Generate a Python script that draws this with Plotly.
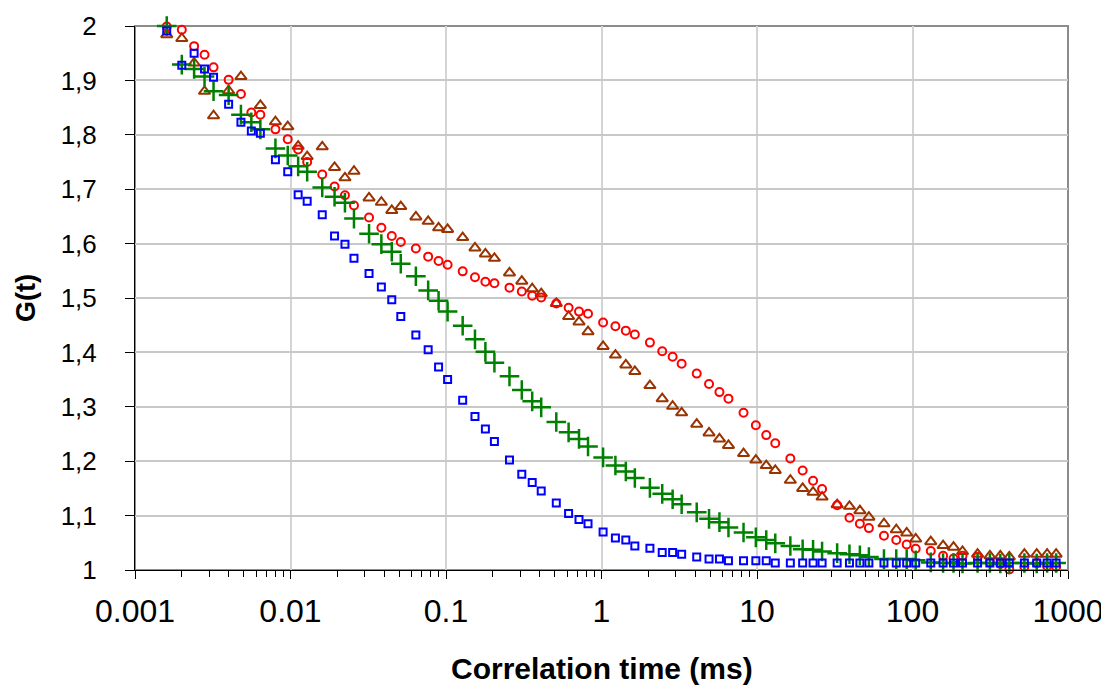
import plotly.graph_objects as go

# Correlation times (ms)
tau_ms = [
    0.0016,
    0.002, 0.0024, 0.0028, 0.0032,
    0.004, 0.0048, 0.0056, 0.0064,
    0.008, 0.0096, 0.0112, 0.0128,
    0.016, 0.0192, 0.0224, 0.0256,
    0.032, 0.0384, 0.0448, 0.0512,
    0.064, 0.0768, 0.0896, 0.1024,
    0.128, 0.1536, 0.1792, 0.2048,
    0.256, 0.3072, 0.3584, 0.4096,
    0.512, 0.6144, 0.7168, 0.8192,
    1.024, 1.2288, 1.4336, 1.6384,
    2.048, 2.4576, 2.8672, 3.2768,
    4.096, 4.9152, 5.7344, 6.5536,
    8.192, 9.8304, 11.4688, 13.1072,
    16.384, 19.6608, 22.9376, 26.2144,
    32.768, 39.3216, 45.8752, 52.4288,
    65.536, 78.6432, 91.7504, 104.8576,
    131.072, 157.2864, 183.5008, 209.7152,
    262.144, 314.5728, 367.0016, 419.4304,
    524.288, 629.1456, 734.0032, 838.8608,
]

g_red = [
    1.999, 1.993, 1.963, 1.947, 1.924, 1.901, 1.875, 1.841, 1.837, 1.810,
    1.792, 1.773, 1.750, 1.727, 1.705, 1.689, 1.670, 1.648, 1.629, 1.614,
    1.603, 1.591, 1.576, 1.568, 1.561, 1.549, 1.538, 1.530, 1.527, 1.519,
    1.512, 1.504, 1.501, 1.490, 1.482, 1.475, 1.471, 1.455, 1.448, 1.440,
    1.433, 1.418, 1.402, 1.392, 1.379, 1.361, 1.342, 1.327, 1.315, 1.289,
    1.266, 1.248, 1.233, 1.205, 1.183, 1.164, 1.149, 1.119, 1.096, 1.085,
    1.077, 1.063, 1.055, 1.047, 1.039, 1.035, 1.026, 1.021, 1.026, 1.024,
    1.014, 1.011, 1.001, 1.006, 1.013, 1.007, 1.006,
]

g_brown = [
    1.984, 1.977, 1.932, 1.880, 1.835, 1.881, 1.907, None, 1.854, 1.824,
    1.815, 1.779, 1.760, 1.778, 1.740, 1.721, 1.733, 1.684, 1.676, 1.661,
    1.668, 1.649, 1.641, 1.629, 1.626, 1.611, 1.592, 1.581, 1.573, 1.546,
    1.531, 1.517, 1.508, 1.490, 1.466, 1.456, 1.438, 1.411, 1.395, 1.377,
    1.365, 1.339, 1.315, 1.301, 1.289, 1.268, 1.252, 1.241, 1.229, 1.214,
    1.202, 1.192, 1.183, 1.165, 1.150, 1.143, 1.134, 1.120, 1.117, 1.109,
    1.097, 1.085, 1.074, 1.068, 1.057, 1.052, 1.045, 1.042, 1.034, 1.029,
    1.026, 1.026, 1.024, 1.029, 1.029, 1.029, 1.029,
]

g_green = [
    2.000, 1.929, 1.921, 1.907, 1.880, 1.873, 1.837, 1.823, 1.810, 1.775,
    1.762, 1.742, 1.732, 1.703, 1.686, 1.675, 1.646, 1.618, 1.599, 1.585,
    1.563, 1.540, 1.514, 1.495, 1.475, 1.449, 1.424, 1.401, 1.381, 1.356,
    1.331, 1.310, 1.299, 1.272, 1.253, 1.241, 1.227, 1.207, 1.192, 1.181,
    1.169, 1.151, 1.140, 1.130, 1.121, 1.106, 1.094, 1.088, 1.078, 1.069,
    1.060, 1.055, 1.049, 1.044, 1.038, 1.037, 1.034, 1.031, 1.029, 1.027,
    1.024, 1.020, 1.020, 1.020, 1.018, 1.014, 1.013, 1.013, 1.012, 1.013,
    1.013, 1.012, 1.013, 1.013, 1.012, 1.013, 1.013,
]

g_blue = [
    1.991, 1.928, 1.950, 1.921, 1.906, 1.856, 1.823, 1.807, 1.803, 1.754,
    1.732, 1.690, 1.678, 1.653, 1.614, 1.599, 1.573, 1.545, 1.520, 1.497,
    1.466, 1.432, 1.405, 1.373, 1.350, 1.312, 1.282, 1.259, 1.236, 1.202,
    1.176, 1.161, 1.145, 1.123, 1.104, 1.093, 1.085, 1.070, 1.059, 1.055,
    1.044, 1.040, 1.032, 1.032, 1.029, 1.024, 1.020, 1.020, 1.017, 1.017,
    1.017, 1.017, 1.013, 1.013, 1.013, 1.013, 1.013, 1.013, 1.013, 1.013,
    1.013, 1.013, 1.013, 1.013, 1.013, 1.013, 1.013, 1.013, 1.013, 1.013,
    1.013, 1.013, 1.013, 1.013, 1.013, 1.013, 1.013,
]

x_tick_vals = [0.001, 0.01, 0.1, 1, 10, 100, 1000]
x_tick_text = ["0.001", "0.01", "0.1", "1", "10", "100", "1000"]
y_tick_vals = [1.0, 1.1, 1.2, 1.3, 1.4, 1.5, 1.6, 1.7, 1.8, 1.9, 2.0]
y_tick_text = ["1", "1,1", "1,2", "1,3", "1,4", "1,5", "1,6", "1,7", "1,8", "1,9", "2"]

x_title = "Correlation time (ms)"
y_title = "G(t)"

FONT = "Liberation Sans, Arial, sans-serif"

# page body has an 8px default margin; figure is sized/offset to compensate
OFF = 8
W, H = 1109 - OFF, 689 - OFF
ML, MT = 135 - OFF, 26 - OFF
MR, MB = 41, 119
PW, PH = W - ML - MR, H - MT - MB

fig = go.Figure()

series = [
    (g_brown, "triangle-up-open", "#993300", 10, 2.0),
    (g_red, "circle-open", "#FF0000", 8, 2.0),
    (g_green, "cross-thin-open", "#008000", 14, 2.5),
    (g_blue, "square-open", "#0000FF", 7, 2.0),
]
for ys, sym, col, sz, lw in series:
    fig.add_trace(go.Scatter(
        x=tau_ms, y=ys, mode="markers",
        marker=dict(symbol=sym, size=sz, color=col, line=dict(color=col, width=lw)),
        showlegend=False, cliponaxis=False,
    ))

# gray frame (top/right)
fig.add_shape(type="rect", xref="paper", yref="paper", x0=0, x1=1, y0=0, y1=1,
              line=dict(color="#8C8C8C", width=2), layer="below")

fig.add_annotation(text="<b>" + x_title + "</b>", xref="paper", yref="paper",
                   x=0.5, y=-(668 - 570) / PH, xanchor="center", yanchor="middle",
                   showarrow=False, font=dict(size=30, family=FONT, color="black"))
fig.add_annotation(text="<b>" + y_title + "</b>", xref="paper", yref="paper",
                   x=-(135 - 26) / PW, y=0.5, xanchor="center", yanchor="middle",
                   textangle=-90, showarrow=False, borderpad=0,
                   font=dict(size=27, family=FONT, color="black"))

fig.update_layout(
    width=W, height=H,
    margin=dict(l=ML, r=MR, t=MT, b=MB, autoexpand=False),
    paper_bgcolor="white", plot_bgcolor="white",
    font=dict(family=FONT, color="black"),
    xaxis=dict(
        type="log", range=[-3, 3], automargin=False,
        tickvals=x_tick_vals, ticktext=x_tick_text,
        tickfont=dict(size=32, family=FONT), ticklabelstandoff=5,
        ticks="outside", ticklen=8, tickcolor="black", tickwidth=1,
        showline=True, linecolor="black", linewidth=1,
        showgrid=True, gridcolor="#D4D4D4", gridwidth=2,
        zeroline=False,
        minor=dict(ticks="outside", ticklen=6, tickcolor="black", tickwidth=1,
                   dtick="D1", showgrid=False),
    ),
    yaxis=dict(
        range=[1, 2], automargin=False,
        tickvals=y_tick_vals, ticktext=y_tick_text,
        tickfont=dict(size=26, family=FONT), ticklabelstandoff=23,
        ticks="outside", ticklen=9, tickcolor="black", tickwidth=1,
        showline=True, linecolor="black", linewidth=1,
        showgrid=True, gridcolor="#C8C8C8", gridwidth=1.5,
        zeroline=False,
    ),
)

fig.write_html("out.html")
